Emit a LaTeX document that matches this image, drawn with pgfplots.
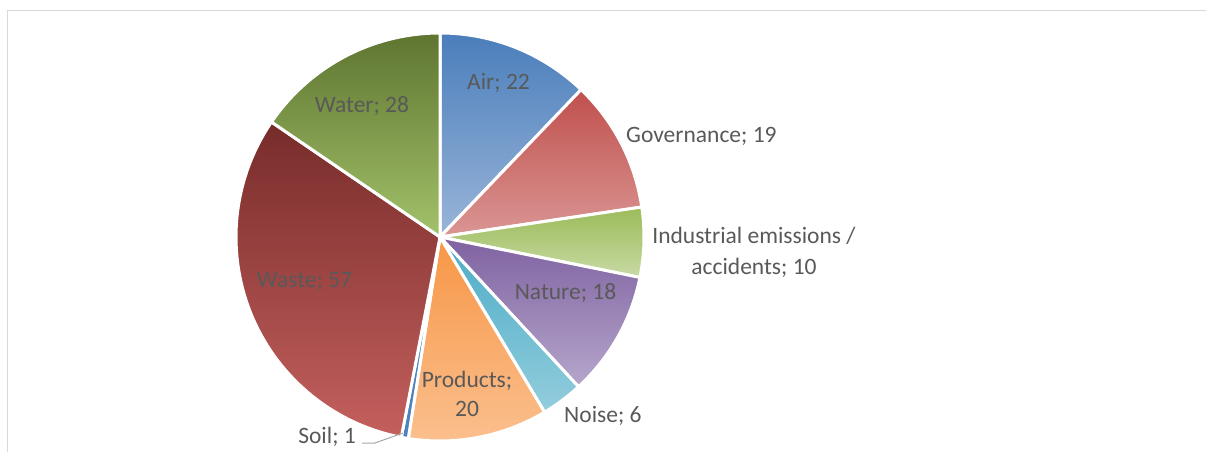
\documentclass[border=0pt]{standalone}
\usepackage{pgfplots}
\usepackage{pgfplotstable}
\pgfplotsset{compat=1.18}
\usepackage{fontspec}
\setmainfont{Carlito}

\pgfplotstableread{
name value
Air 22
Governance 19
Industrial 10
Nature 18
Noise 6
Products 20
Soil 1
Waste 57
Water 28
}\piedata

\definecolor{ctop0}{HTML}{4A7EBB}\definecolor{cbot0}{HTML}{9AB5D9}
\definecolor{ctop1}{HTML}{C0504D}\definecolor{cbot1}{HTML}{DA9694}
\definecolor{ctop2}{HTML}{9BBB59}\definecolor{cbot2}{HTML}{C8DAA4}
\definecolor{ctop3}{HTML}{7F62A1}\definecolor{cbot3}{HTML}{B5A6CB}
\definecolor{ctop4}{HTML}{4BACC6}\definecolor{cbot4}{HTML}{93CDDD}
\definecolor{ctop5}{HTML}{F79646}\definecolor{cbot5}{HTML}{FBC08F}
\definecolor{ctop6}{HTML}{4F81BD}\definecolor{cbot6}{HTML}{4F81BD}
\definecolor{ctop7}{HTML}{772C2A}\definecolor{cbot7}{HTML}{C4605E}
\definecolor{ctop8}{HTML}{5E7530}\definecolor{cbot8}{HTML}{A3C26A}
\definecolor{lbl}{HTML}{595959}
\definecolor{frame}{HTML}{D9D9D9}

\begin{document}
\begin{tikzpicture}
\begin{axis}[
  x=1pt, y=1pt,
  xmin=0, xmax=1206, ymin=0, ymax=452,
  hide axis, clip=false,
]
\coordinate (SW) at (axis cs:0,0);
\coordinate (NE) at (axis cs:1206,452);
\draw[frame, line width=1.6pt] (axis cs:7.5,0) -- (axis cs:7.5,441.5) -- (axis cs:1206,441.5);
\pgfplotsextra{
  \xdef\total{0}
  \pgfplotsforeachungrouped \i in {0,...,8}{
    \pgfplotstablegetelem{\i}{value}\of\piedata
    \pgfmathsetmacro\tmp{\total+\pgfplotsretval}
    \xdef\total{\tmp}
  }
  \pgfmathsetmacro\scl{360/\total}
  \xdef\scl{\scl}
  \xdef\cum{0}
  \pgfplotsforeachungrouped \i in {0,...,8}{
    \pgfplotstablegetelem{\i}{value}\of\piedata
    \let\v\pgfplotsretval
    \pgfmathsetmacro\a{90-\cum*\scl}
    \pgfmathsetmacro\b{90-(\cum+\v)*\scl}
    \path[top color=ctop\i, bottom color=cbot\i, draw=white, line width=3pt, line join=round]
      (axis cs:440,215) -- ++(\a:204pt) arc[start angle=\a, end angle=\b, radius=204pt] -- cycle;
    \pgfmathsetmacro\tmp{\cum+\v}
    \xdef\cum{\tmp}
  }
}
\draw[color=black!35, line width=1pt] (axis cs:362,9) -- (axis cs:375,9) -- (axis cs:403,19);
\begin{scope}[every node/.style={font=\fontsize{23.5}{29}\selectfont, text=lbl, inner sep=0pt}]
\node[anchor=base] at (axis cs:498.5,362) {Air; 22};
\node[anchor=base west] at (axis cs:626,309) {Governance; 19};
\node[anchor=base] at (axis cs:754,208) {Industrial emissions /};
\node[anchor=base] at (axis cs:754,177) {accidents; 10};
\node[anchor=base] at (axis cs:565.5,152) {Nature; 18};
\node[anchor=base west] at (axis cs:564,29) {Noise; 6};
\node[anchor=base] at (axis cs:467,64) {Products;};
\node[anchor=base] at (axis cs:467,35) {20};
\node[anchor=base east] at (axis cs:356,9) {Soil; 1};
\node[anchor=base] at (axis cs:304.5,164) {Waste; 57};
\node[anchor=base] at (axis cs:362,339) {Water; 28};
\end{scope}
\end{axis}
\pgfresetboundingbox
\useasboundingbox (SW) rectangle (NE);
\end{tikzpicture}
\end{document}
